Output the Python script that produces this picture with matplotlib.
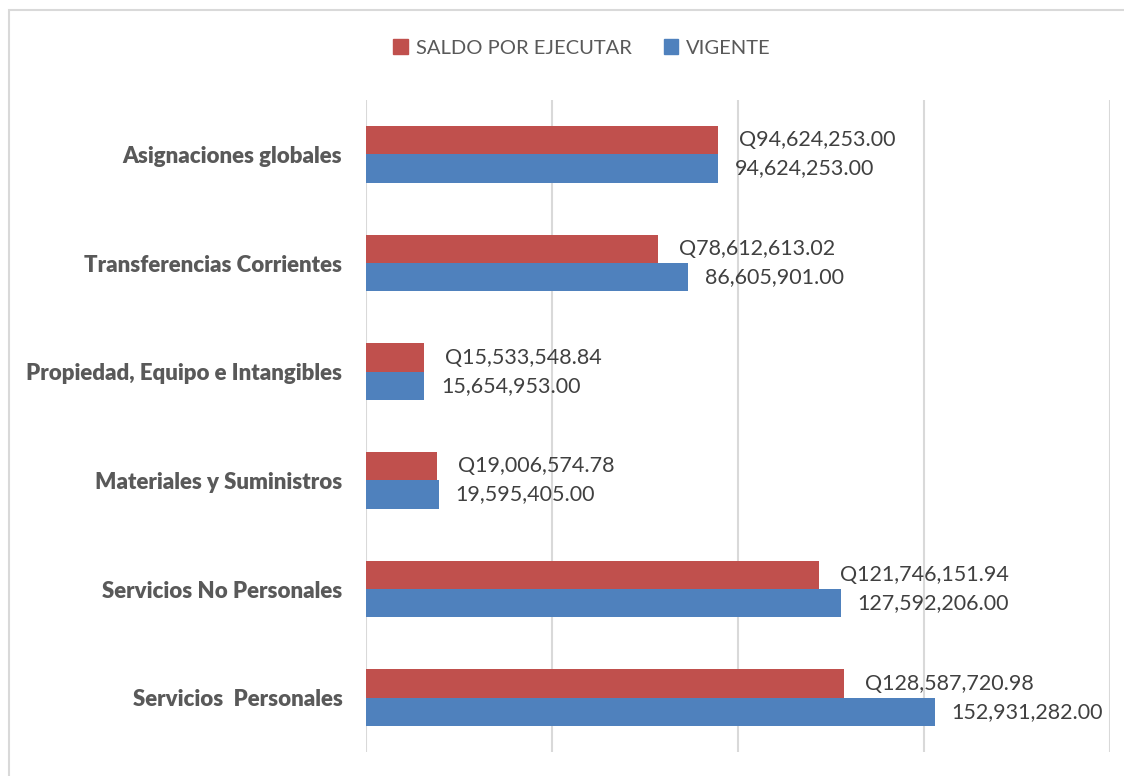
import matplotlib
matplotlib.use("Agg")
import matplotlib.pyplot as plt
from matplotlib.patches import Rectangle, Patch

categories = ["Servicios  Personales", "Servicios No Personales", "Materiales y Suministros",
              "Propiedad, Equipo e Intangibles", "Transferencias Corrientes", "Asignaciones globales"]
saldo = [128587720.98, 121746151.94, 19006574.78, 15533548.84, 78612613.02, 94624253.00]
vigente = [152931282.00, 127592206.00, 19595405.00, 15654953.00, 86605901.00, 94624253.00]

RED = "#C0504D"
BLUE = "#4F81BD"
GRAY = "#595959"
GRID = "#D9D9D9"

plt.rcParams['font.family'] = ['Lato', 'DejaVu Sans']

fig = plt.figure(figsize=(11.24, 7.76), dpi=100)
ax = fig.add_axes([366/1124, 24/776, (1110-366)/1124, (752-100)/776])

h = 0.26
y = list(range(len(categories)))
ax.barh([i + h/2 for i in y], saldo, height=h, color=RED, zorder=3)
ax.barh([i - h/2 for i in y], vigente, height=h, color=BLUE, zorder=3)

for i in y:
    ax.annotate(f"Q{saldo[i]:,.2f}", (saldo[i], i + h/2), xytext=(15, 0), textcoords="offset points",
                va="center", ha="left", fontsize=15.5, color="#404040")
    ax.annotate(f"{vigente[i]:,.2f}", (vigente[i], i - h/2), xytext=(12, 0), textcoords="offset points",
                va="center", ha="left", fontsize=15.5, color="#404040")

ax.set_xlim(0, 200e6)
ax.set_ylim(-0.5, len(categories) - 0.5)
ax.set_xticks([0, 50e6, 100e6, 150e6, 200e6])
ax.set_xticklabels([])
ax.tick_params(axis='x', length=0)
ax.tick_params(axis='y', length=0, pad=17)
ax.set_yticks(y)
ax.set_yticklabels(categories, fontsize=16, fontweight='heavy', color=GRAY)
ax.grid(axis='x', color=GRID, linewidth=1.5, zorder=0)
for s in ax.spines.values():
    s.set_visible(False)

handles = [Patch(color=RED, label="SALDO POR EJECUTAR"), Patch(color=BLUE, label="VIGENTE")]
leg = fig.legend(handles=handles, loc="center", bbox_to_anchor=(582/1124, 1 - 48/776), ncol=2,
                 frameon=False, fontsize=14.5, handlelength=0.7, handleheight=0.7,
                 columnspacing=1.6, handletextpad=0.4)
for t in leg.get_texts():
    t.set_color(GRAY)

fig.patches.append(Rectangle((8.5/1124, -0.1), 1.2, 1 - 10.5/776 + 0.1, transform=fig.transFigure,
                             fill=False, edgecolor=GRID, linewidth=1.5))

fig.savefig("out.png", dpi=100)
